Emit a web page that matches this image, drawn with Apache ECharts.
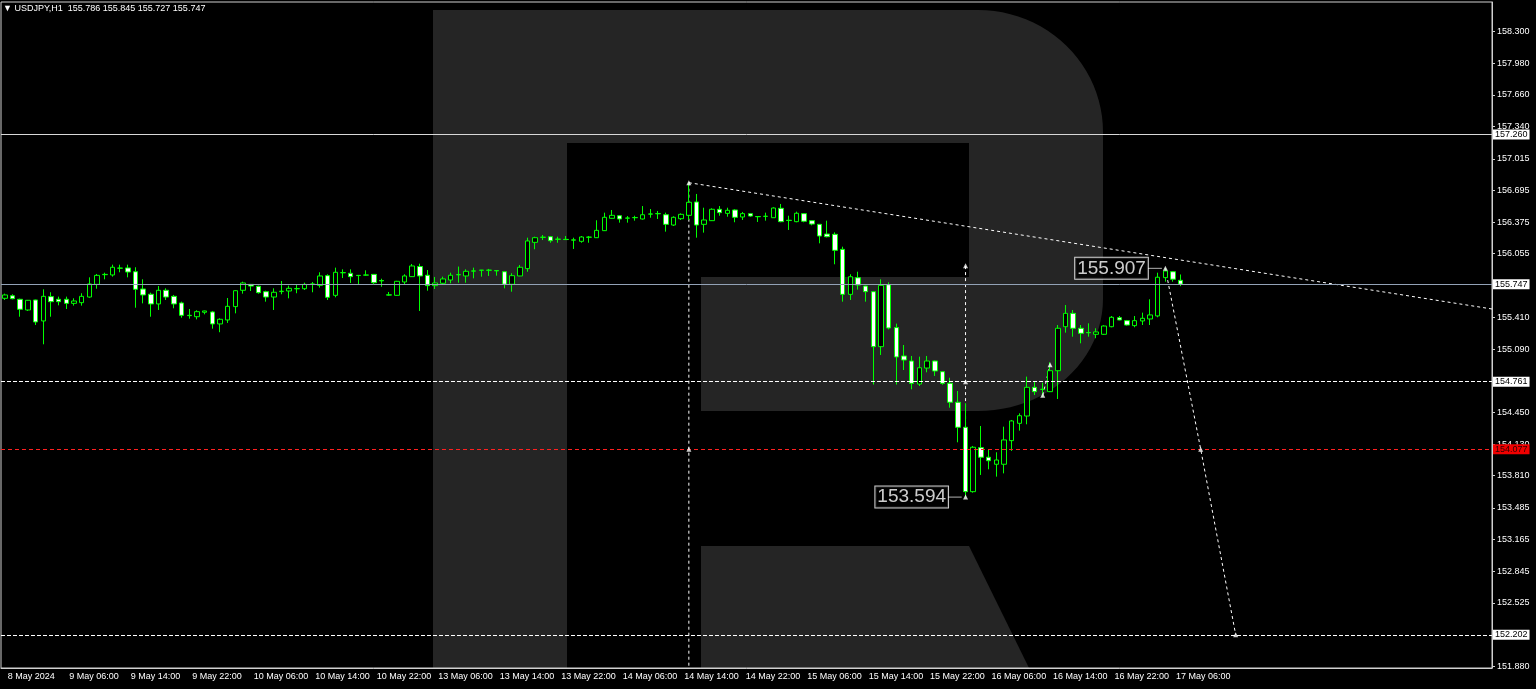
<!DOCTYPE html>
<html>
<head>
<meta charset="utf-8">
<title>USDJPY H1</title>
<script src="https://cdn.jsdelivr.net/npm/echarts@6/dist/echarts.min.js"></script>
<style>
  html, body { margin: 0; padding: 0; background: #000; }
  #chart { width: 1536px; height: 689px; }
</style>
</head>
<body>
<div id="chart"></div>
<script>
// instrument
const symbolName = 'USDJPY';
const timeframe = 'H1';
const year = 2024;
// trading days on screen (weekend is skipped), first and last hour
const days = ['8 May', '9 May', '10 May', '13 May', '14 May', '15 May', '16 May', '17 May'];
const firstHour = 22;
const lastHour = 7;
const emptySlots = 40; // free bars right of the last candle

// hourly candles
const opens = [
  155.604, 155.630, 155.594, 155.486, 155.587, 155.375, 155.621, 155.594, 155.594, 155.553,
  155.560, 155.617, 155.745, 155.843, 155.840, 155.908, 155.911, 155.873, 155.698, 155.645,
  155.547, 155.685, 155.624, 155.557, 155.432, 155.418, 155.463, 155.466, 155.345, 155.385,
  155.520, 155.685, 155.745, 155.725, 155.671, 155.617, 155.672, 155.678, 155.700, 155.701,
  155.747, 155.735, 155.833, 155.634, 155.862, 155.857, 155.836, 155.838, 155.846, 155.784,
  155.636, 155.634, 155.769, 155.823, 155.925, 155.837, 155.732, 155.756, 155.789, 155.842,
  155.830, 155.879, 155.887, 155.887, 155.884, 155.873, 155.746, 155.830, 155.904, 156.170,
  156.220, 156.227, 156.200, 156.200, 156.192, 156.180, 156.221, 156.217, 156.288, 156.413,
  156.439, 156.414, 156.419, 156.406, 156.455, 156.459, 156.449, 156.345, 156.409, 156.443,
  156.578, 156.352, 156.389, 156.504, 156.463, 156.497, 156.426, 156.460, 156.431, 156.432,
  156.419, 156.514, 156.393, 156.379, 156.460, 156.389, 156.352, 156.254, 156.251, 156.099,
  155.644, 155.812, 155.728, 155.671, 155.115, 155.742, 155.308, 155.021, 154.970, 154.737,
  154.899, 154.970, 154.862, 154.745, 154.553, 154.300, 153.649, 154.094, 153.997, 153.926,
  153.926, 154.165, 154.340, 154.414, 154.704, 154.682, 154.660, 154.872, 155.317, 155.452,
  155.301, 155.258, 155.240, 155.240, 155.317, 155.408, 155.378, 155.328, 155.375, 155.395,
  155.426, 155.813, 155.873, 155.786
];
const highs = [
  155.651, 155.645, 155.600, 155.587, 155.590, 155.695, 155.665, 155.621, 155.621, 155.604,
  155.655, 155.816, 155.850, 155.863, 155.944, 155.944, 155.944, 155.918, 155.796, 155.661,
  155.728, 155.705, 155.638, 155.570, 155.496, 155.483, 155.479, 155.476, 155.402, 155.607,
  155.685, 155.772, 155.749, 155.732, 155.681, 155.705, 155.779, 155.732, 155.739, 155.762,
  155.769, 155.867, 155.847, 155.914, 155.897, 155.897, 155.840, 155.887, 155.850, 155.802,
  155.668, 155.780, 155.847, 155.951, 155.954, 155.890, 155.820, 155.823, 155.863, 155.925,
  155.897, 155.914, 155.891, 155.901, 155.887, 155.876, 155.857, 155.941, 156.217, 156.227,
  156.244, 156.234, 156.227, 156.234, 156.217, 156.234, 156.234, 156.393, 156.470, 156.497,
  156.446, 156.436, 156.439, 156.537, 156.507, 156.487, 156.470, 156.433, 156.463, 156.773,
  156.659, 156.520, 156.514, 156.537, 156.520, 156.504, 156.477, 156.462, 156.433, 156.470,
  156.524, 156.558, 156.439, 156.480, 156.464, 156.391, 156.354, 156.389, 156.271, 156.126,
  155.847, 155.873, 155.731, 155.675, 155.796, 155.765, 155.348, 155.132, 155.021, 155.014,
  155.021, 154.975, 154.865, 154.801, 154.667, 154.543, 154.111, 154.313, 154.078, 154.047,
  154.306, 154.374, 154.441, 154.812, 154.768, 154.751, 154.957, 155.334, 155.536, 155.486,
  155.334, 155.351, 155.301, 155.331, 155.425, 155.425, 155.385, 155.425, 155.459, 155.594,
  155.863, 155.907, 155.880, 155.845
];
const lows = [
  155.587, 155.594, 155.418, 155.476, 155.334, 155.139, 155.418, 155.533, 155.496, 155.530,
  155.530, 155.610, 155.701, 155.796, 155.823, 155.867, 155.816, 155.509, 155.553, 155.418,
  155.486, 155.587, 155.503, 155.408, 155.398, 155.391, 155.442, 155.297, 155.261, 155.355,
  155.452, 155.651, 155.678, 155.651, 155.570, 155.486, 155.645, 155.604, 155.655, 155.688,
  155.665, 155.712, 155.587, 155.614, 155.809, 155.759, 155.745, 155.833, 155.745, 155.721,
  155.630, 155.630, 155.745, 155.820, 155.476, 155.681, 155.698, 155.749, 155.756, 155.762,
  155.762, 155.806, 155.823, 155.830, 155.833, 155.705, 155.671, 155.828, 155.873, 156.100,
  156.193, 156.166, 156.166, 156.193, 156.103, 156.166, 156.166, 156.214, 156.285, 156.410,
  156.369, 156.369, 156.389, 156.400, 156.419, 156.406, 156.278, 156.335, 156.396, 156.396,
  156.217, 156.268, 156.386, 156.439, 156.429, 156.373, 156.396, 156.429, 156.376, 156.389,
  156.419, 156.373, 156.295, 156.373, 156.373, 156.342, 156.160, 156.220, 155.948, 155.570,
  155.587, 155.692, 155.570, 154.732, 155.031, 155.290, 154.732, 154.879, 154.684, 154.717,
  154.856, 154.819, 154.730, 154.498, 154.148, 153.594, 153.639, 153.818, 153.875, 153.801,
  153.834, 154.061, 154.266, 154.330, 154.626, 154.609, 154.656, 154.586, 155.257, 155.216,
  155.149, 155.216, 155.200, 155.233, 155.311, 155.382, 155.328, 155.311, 155.334, 155.334,
  155.412, 155.772, 155.772, 155.727
];
const closes = [
  155.638, 155.600, 155.493, 155.584, 155.365, 155.624, 155.570, 155.570, 155.553, 155.577,
  155.624, 155.749, 155.836, 155.846, 155.918, 155.910, 155.870, 155.695, 155.638, 155.547,
  155.685, 155.617, 155.547, 155.432, 155.429, 155.469, 155.476, 155.345, 155.392, 155.523,
  155.681, 155.759, 155.728, 155.661, 155.617, 155.665, 155.676, 155.705, 155.703, 155.745,
  155.749, 155.830, 155.614, 155.867, 155.864, 155.823, 155.834, 155.840, 155.762, 155.780,
  155.640, 155.776, 155.830, 155.931, 155.830, 155.732, 155.759, 155.800, 155.837, 155.844,
  155.877, 155.881, 155.889, 155.889, 155.882, 155.746, 155.833, 155.918, 156.184, 156.217,
  156.222, 156.186, 156.203, 156.198, 156.195, 156.224, 156.223, 156.291, 156.423, 156.443,
  156.406, 156.416, 156.421, 156.449, 156.457, 156.461, 156.352, 156.423, 156.453, 156.575,
  156.345, 156.396, 156.504, 156.470, 156.494, 156.423, 156.460, 156.436, 156.429, 156.434,
  156.517, 156.379, 156.391, 156.464, 156.383, 156.355, 156.234, 156.227, 156.089, 155.644,
  155.822, 155.738, 155.671, 155.115, 155.735, 155.304, 155.011, 154.980, 154.744, 154.902,
  154.970, 154.869, 154.744, 154.553, 154.300, 153.649, 154.098, 153.997, 153.962, 153.969,
  154.172, 154.364, 154.417, 154.704, 154.660, 154.685, 154.872, 155.301, 155.452, 155.301,
  155.250, 155.256, 155.264, 155.324, 155.412, 155.385, 155.334, 155.378, 155.402, 155.436,
  155.817, 155.880, 155.797, 155.747
];

// price scale
const priceMin = 151.866;
const priceMax = 158.600;
const yTicks = [158.300, 157.980, 157.660, 157.340, 157.015, 156.695, 156.375, 156.055, 155.735,
  155.410, 155.090, 154.770, 154.450, 154.130, 153.810, 153.485, 153.165, 152.845, 152.525,
  152.205, 151.880];

// horizontal levels
const resistanceLevel = 157.260;
const bidLevel = 155.747;
const upperLevel = 154.761;
const targetLevel = 154.077;
const lowerLevel = 152.202;

// drawn objects, x given as bar index
const trendLine = [[89, 156.773], [193.5, 155.496]];
const peakVertical = [[89, 156.773], [89, priceMin]];
const lowVertical = [[125, 153.594], [125, 155.933]];
const smallSwing = [[135.05, 154.623], [136, 154.933]];
const forecastPath = [[151, 155.907], [155.6, 154.077], [160.15, 152.202]];
const arrowPoints = [[89, 156.773], [89, 154.077], [125, 155.933], [125, 154.761], [125, 153.594],
  [135.05, 154.623], [136, 154.933], [151, 155.907], [155.6, 154.077], [160.15, 152.202]];
const highNote = [151, 155.907];
const lowNote = [125, 153.594];
const highConnector = [[148.74, 155.907], [150.55, 155.907]];
const lowConnector = [[122.7, 153.594], [124.5, 153.594]];

const FONT = 'Liberation Sans';

// build hourly categories
const categories = [];
days.forEach((d, k) => {
  const h0 = k === 0 ? firstHour : 0;
  const h1 = k === days.length - 1 ? lastHour : 23;
  for (let h = h0; h <= h1; h++) {
    categories.push(d + ' ' + String(h).padStart(2, '0') + ':00');
  }
});
const barCount = categories.length;
for (let k = 0; k < emptySlots; k++) categories.push('');

const candles = opens.map((o, i) => [o, closes[i], lows[i], highs[i]]);
const last = barCount - 1;

const tickFn = (idx) => idx < barCount && idx % 8 === 0;

// watermark "R" outline, built with arcs for the rounded corners
function arc(cx, cy, rx, ry, a0, a1, n) {
  const pts = [];
  for (let k = 0; k <= n; k++) {
    const a = (a0 + (a1 - a0) * k / n) * Math.PI / 180;
    pts.push([cx + rx * Math.cos(a), cy + ry * Math.sin(a)]);
  }
  return pts;
}
const rBody = [[433, 10], [978, 10]]
  .concat(arc(978, 132, 125, 122, -90, 0, 24))
  .concat(arc(978, 299, 125, 112, 0, 90, 24))
  .concat([[701, 411], [701, 277], [969, 277], [969, 143], [567, 143], [567, 668], [433, 668]]);
const rLeg = [[701, 546], [969, 546], [1029, 668], [701, 668]];

function levelLine(value, lineColor, lineType, boxColor, textColor) {
  return {
    yAxis: value,
    lineStyle: { color: lineColor, type: lineType, width: 1 },
    label: { backgroundColor: boxColor, color: textColor }
  };
}

function dotted(data, color) {
  return {
    type: 'line',
    xAxisIndex: 1,
    data: data,
    symbol: 'none',
    silent: true,
    z: 3,
    lineStyle: { color: color || '#ffffff', width: 1, type: [3, 3] }
  };
}

function noteSeries(point) {
  return {
    type: 'scatter',
    xAxisIndex: 1,
    data: [point],
    symbolSize: 1,
    silent: true,
    z: 5,
    itemStyle: { color: 'rgba(0,0,0,0)' },
    label: {
      show: true,
      position: 'left',
      distance: 17,
      formatter: (p) => p.value[1].toFixed(3),
      fontFamily: FONT,
      fontSize: 19,
      color: '#ffffff',
      backgroundColor: '#000000',
      borderColor: '#ffffff',
      borderWidth: 1,
      padding: [2, 2, 0, 2]
    }
  };
}

const chart = echarts.init(document.getElementById('chart'));
const option = {
  backgroundColor: '#000000',
  animation: false,
  title: {
    text: '\u25BC ' + symbolName + ',' + timeframe + '  ' + opens[last].toFixed(3) + ' ' +
      highs[last].toFixed(3) + ' ' + lows[last].toFixed(3) + ' ' + closes[last].toFixed(3),
    left: 3,
    top: 4,
    padding: 0,
    textStyle: { color: '#ffffff', fontSize: 9, fontWeight: 'normal', fontFamily: FONT }
  },
  grid: {
    left: 1, top: 2, right: 44, bottom: 21,
    show: true, borderColor: '#d0d0d0', borderWidth: 1
  },
  graphic: [
    { type: 'polygon', z: -1, silent: true, shape: { points: rBody }, style: { fill: '#252525' } },
    { type: 'polygon', z: -1, silent: true, shape: { points: rLeg }, style: { fill: '#252525' } }
  ],
  xAxis: [
    {
      type: 'category',
      data: categories,
      boundaryGap: true,
      axisLine: { onZero: false, lineStyle: { color: '#d0d0d0' } },
      axisTick: { alignWithLabel: true, interval: tickFn, length: 4, lineStyle: { color: '#d0d0d0' } },
      axisLabel: {
        interval: tickFn,
        align: 'left',
        padding: [0, 0, 0, 3],
        margin: 4,
        color: '#ffffff',
        fontSize: 9,
        fontFamily: FONT,
        formatter: (v, i) => (i === 0 ? days[0] + ' ' + year : v)
      },
      splitLine: { show: false }
    },
    {
      type: 'value', min: -0.5, max: categories.length - 0.5, show: false,
      axisLine: { onZero: false }
    }
  ],
  yAxis: {
    type: 'value',
    position: 'right',
    min: priceMin,
    max: priceMax,
    axisLine: { show: true, onZero: false, lineStyle: { color: '#d0d0d0' } },
    axisTick: { show: true, customValues: yTicks, length: 3, lineStyle: { color: '#d0d0d0' } },
    axisLabel: {
      customValues: yTicks,
      formatter: (v) => v.toFixed(3),
      color: '#ffffff',
      fontSize: 9,
      fontFamily: FONT,
      margin: 5
    },
    splitLine: { show: false }
  },
  series: [
    {
      type: 'candlestick',
      data: candles,
      barWidth: 5,
      z: 4,
      itemStyle: {
        color: '#000000',
        color0: '#ffffff',
        borderColor: '#00ff00',
        borderColor0: '#00ff00',
        borderWidth: 1
      },
      markLine: {
        symbol: ['none', 'none'],
        silent: true,
        precision: 3,
        label: {
          position: 'end',
          distance: 1,
          formatter: (p) => Number(p.value).toFixed(3),
          fontFamily: FONT,
          fontSize: 9,
          padding: [1, 2, 0, 2]
        },
        data: [
          levelLine(resistanceLevel, '#d8d8d8', 'solid', '#ffffff', '#000000'),
          levelLine(bidLevel, '#93a2b6', 'solid', '#ffffff', '#000000'),
          levelLine(upperLevel, '#ffffff', [4, 2], '#ffffff', '#000000'),
          levelLine(targetLevel, '#ff2020', [4, 3], '#f00000', '#300000'),
          levelLine(lowerLevel, '#ffffff', [4, 2], '#ffffff', '#000000')
        ]
      }
    },
    dotted(trendLine),
    dotted(peakVertical),
    dotted(lowVertical),
    dotted(smallSwing),
    dotted(forecastPath),
    {
      type: 'line', xAxisIndex: 1, data: highConnector, symbol: 'none', silent: true, z: 5,
      lineStyle: { color: '#b0b0b0', width: 1 }
    },
    {
      type: 'line', xAxisIndex: 1, data: lowConnector, symbol: 'none', silent: true, z: 5,
      lineStyle: { color: '#b0b0b0', width: 1 }
    },
    {
      type: 'scatter', xAxisIndex: 1, data: arrowPoints, symbol: 'triangle', symbolSize: 5,
      silent: true, z: 5, itemStyle: { color: '#ffffff' }
    },
    noteSeries(highNote),
    noteSeries(lowNote)
  ]
};
chart.setOption(option);
</script>
</body>
</html>
